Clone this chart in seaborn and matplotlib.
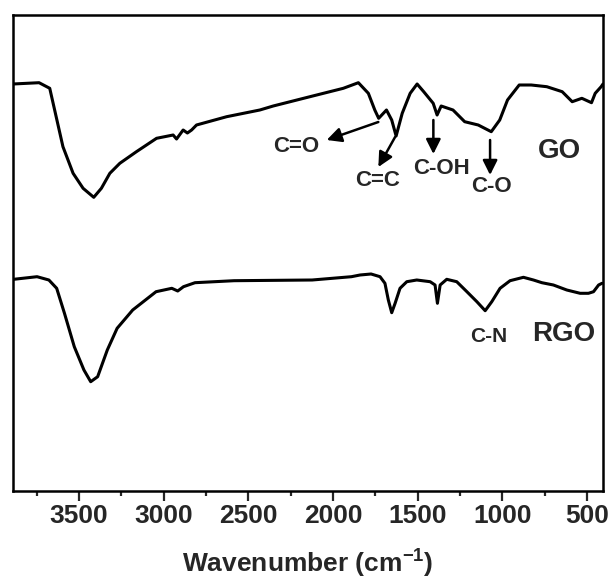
import matplotlib
matplotlib.use('Agg')
import matplotlib.pyplot as plt
from matplotlib.ticker import MultipleLocator
import numpy as np
import pandas as pd
import seaborn as sns

# FTIR spectra (wavenumber in cm-1, transmittance in a.u.)
go_wavenumber = [3890, 3736, 3673, 3644, 3595, 3535, 3476, 3413, 3368, 3318,
                 3259, 3161, 3042, 2944, 2924, 2885, 2860, 2835, 2806, 2628,
                 2432, 2353, 2136, 1939, 1850, 1791, 1753, 1730, 1684, 1653,
                 1627, 1591, 1544, 1503, 1464, 1408, 1385, 1361, 1291, 1222,
                 1142, 1065, 1015, 969, 900, 829, 737, 646, 587, 530,
                 473, 451, 416, 405]
go_signal = [407, 408.3, 402.7, 381, 344.3, 317.7, 302.7, 293.7, 302.7, 317.7,
             327.7, 339.3, 352.7, 356, 352, 361, 358, 361, 366, 374.3,
             381, 385, 394.3, 402.7, 408.3, 397.7, 381, 372.7, 381, 371,
             355, 377.7, 397.7, 407, 399.3, 387.7, 376, 385, 381, 369.3,
             366, 359.3, 371, 391, 406, 406, 404.3, 399.3, 389.3, 392.7,
             388.3, 397.7, 404.3, 407]

rgo_wavenumber = [3886, 3748, 3678, 3632, 3586, 3528, 3471, 3431, 3390, 3333,
                  3275, 3183, 3045, 2952, 2917, 2883, 2815, 2584, 2123, 1891,
                  1840, 1775, 1722, 1693, 1673, 1653, 1633, 1604, 1564, 1505,
                  1426, 1397, 1383, 1367, 1328, 1269, 1209, 1150, 1101, 1062,
                  1013, 954, 875, 816, 766, 698, 619, 540, 491, 461,
                  431, 411]
rgo_signal = [211.7, 214.3, 211, 202.7, 177.7, 144.3, 121, 109.3, 114.3, 141,
              162.7, 181, 199.3, 202.7, 200, 204.3, 208.3, 210.3, 211, 214.3,
              216, 217, 214.3, 207.7, 191, 178.3, 187.7, 202.7, 209.3, 211,
              209.3, 206, 187.7, 206, 211.7, 209.3, 199.3, 189.3, 180.3, 189.3,
              202.7, 210.3, 213.7, 211, 208.3, 206, 201, 197.7, 197.7, 199.3,
              206, 207.7]

# band assignments: label, text position, arrow tail, arrow head
band_labels = ['C=O', 'C=C', 'C-OH', 'C-O']
band_text_xy = [(2216, 345), (1734, 310), (1359, 323), (1062, 305)]
band_arrow_from = [(1732, 369), (1633, 354), (1407, 371), (1072, 351)]
band_arrow_to = [(2037, 351), (1732, 324), (1407, 337), (1072, 316)]

sample_names = ['GO', 'RGO']
sample_label_xy = [(664, 340), (635, 157)]

df = pd.concat([
    pd.DataFrame({'wavenumber': go_wavenumber, 'signal': go_signal, 'sample': 'GO'}),
    pd.DataFrame({'wavenumber': rgo_wavenumber, 'signal': rgo_signal, 'sample': 'RGO'}),
])

sns.set_style('ticks')
plt.rcParams['font.family'] = ['Liberation Sans', 'DejaVu Sans']
plt.rcParams['font.weight'] = 'bold'
plt.rcParams['mathtext.fontset'] = 'custom'
plt.rcParams['mathtext.rm'] = 'Liberation Sans:bold'
plt.rcParams['mathtext.bf'] = 'Liberation Sans:bold'

fig = plt.figure(figsize=(6.12, 5.83), dpi=100)
ax = fig.add_axes([13/612, 1 - 491/583, 590/612, 476/583])

sns.lineplot(ax=ax, data=df, x='wavenumber', y='signal', hue='sample',
             palette=['black', 'black'], sort=False, estimator=None,
             linewidth=2.2, legend=False)

ax.set_xlim(3890, 405)
ax.set_ylim(0, 476)
ax.xaxis.set_major_locator(MultipleLocator(500))
ax.xaxis.set_minor_locator(MultipleLocator(250))
ax.set_yticks([])
ax.tick_params(axis='x', which='major', direction='out', length=7.2, width=1.6,
               labelsize=19, pad=2)
ax.tick_params(axis='x', which='minor', direction='out', length=3.6, width=1.6)
for lab in ax.get_xticklabels():
    lab.set_fontweight('bold')
for sp in ax.spines.values():
    sp.set_linewidth(1.8)
    sp.set_color('black')

ax.set_ylabel('')
ax.set_xlabel(r'Wavenumber (cm$^{-1}$)', fontsize=19, fontweight='bold', labelpad=13)

for lab, txy, a0, a1 in zip(band_labels, band_text_xy, band_arrow_from, band_arrow_to):
    ax.text(txy[0], txy[1], lab, fontsize=16, fontweight='bold',
            ha='center', va='center')
    ax.annotate('', xy=a1, xytext=a0,
                arrowprops=dict(arrowstyle='-|>', color='black', lw=1.8,
                                mutation_scale=22, shrinkA=0, shrinkB=0))

for name, txy in zip(sample_names, sample_label_xy):
    ax.text(txy[0], txy[1], name, fontsize=20, fontweight='bold',
            ha='center', va='center')
ax.text(1078, 154, 'C-N', fontsize=15, fontweight='bold', ha='center', va='center')

fig.savefig('out.png', dpi=100)
